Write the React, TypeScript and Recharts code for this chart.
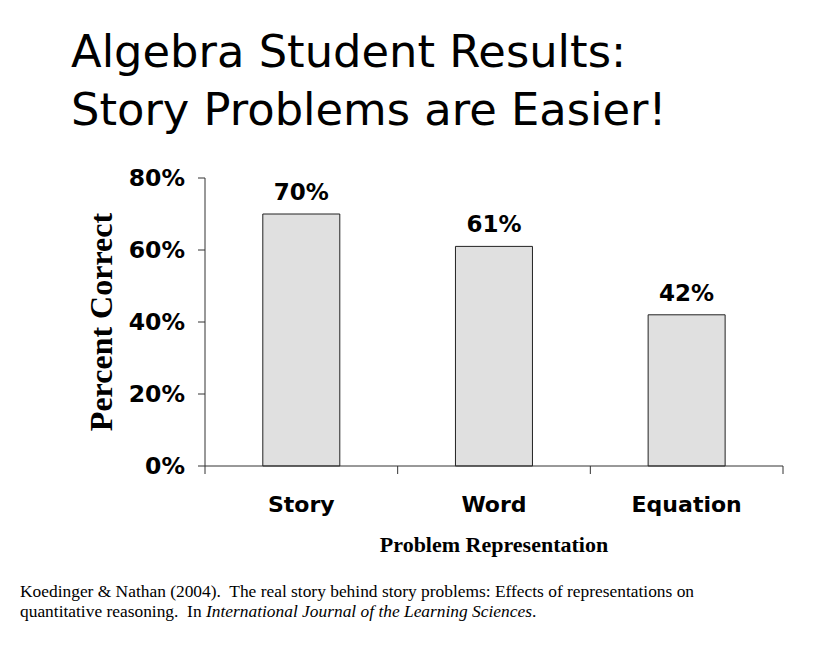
import { BarChart, Bar, XAxis, YAxis, LabelList, Label } from 'recharts';

const CATEGORIES = ['Story', 'Word', 'Equation'];
const PERCENT_CORRECT = [70, 61, 42];
const Y_TICKS = [0, 20, 40, 60, 80];

const data = CATEGORIES.map((name, i) => ({ name, value: PERCENT_CORRECT[i] }));

const SANS = '"DejaVu Sans", Verdana, sans-serif';
const SERIF = '"Liberation Serif", "Times New Roman", serif';

// category tick: boundary tick marks (between bands) plus centred label
function CategoryTick(props: any) {
  const { x, y, payload, index } = props;
  const half = payload?.offset ?? 96;
  const last = index === CATEGORIES.length - 1;
  return (
    <g>
      <line x1={x - half} y1={y} x2={x - half} y2={y + 8} stroke="#333" />
      {last && <line x1={x + half} y1={y} x2={x + half} y2={y + 8} stroke="#333" />}
      <text
        x={x}
        y={y + 46}
        textAnchor="middle"
        fontFamily={SANS}
        fontWeight="bold"
        fontSize={22}
        fill="#000"
      >
        {payload.value}
      </text>
    </g>
  );
}

export default function App() {
  return (
    <div style={{ position: 'absolute', left: 0, top: 0, width: 816, height: 670, background: '#fff' }}>
      <div
        style={{
          position: 'absolute',
          left: 71,
          top: 23,
          fontFamily: SANS,
          fontSize: 44.8,
          lineHeight: '58px',
          color: '#000',
          whiteSpace: 'nowrap',
        }}
      >
        <div>Algebra Student Results:</div>
        <div>Story Problems are Easier!</div>
      </div>

      <div style={{ position: 'absolute', left: 0, top: 0 }}>
        <BarChart
          width={816}
          height={670}
          data={data}
          margin={{ top: 178, right: 33, left: 80, bottom: 144 }}
          barCategoryGap="30%"
        >
          <XAxis
            dataKey="name"
            height={60}
            tickSize={0}
            tickMargin={0}
            tickLine={false}
            axisLine={{ stroke: '#333' }}
            tick={<CategoryTick />}
            interval={0}
          >
            <Label
              content={({ viewBox }: any) => (
                <text
                  x={viewBox.x + viewBox.width / 2}
                  y={viewBox.y + 86}
                  textAnchor="middle"
                  fontFamily={SERIF}
                  fontWeight="bold"
                  fontSize={22}
                  fill="#000"
                >
                  Problem Representation
                </text>
              )}
            />
          </XAxis>
          <YAxis
            width={125}
            domain={[0, 80]}
            ticks={Y_TICKS}
            tickFormatter={(v: number) => `${v}%`}
            tickSize={7}
            tickMargin={13}
            axisLine={{ stroke: '#333' }}
            tickLine={{ stroke: '#333' }}
            tick={{ fill: '#000', fontFamily: SANS, fontWeight: 'bold', fontSize: 23.5 }}
          >
            <Label
              content={({ viewBox }: any) => {
                const cx = viewBox.x + 32;
                const cy = viewBox.y + viewBox.height / 2;
                return (
                  <text
                    x={cx}
                    y={cy}
                    transform={`rotate(-90, ${cx}, ${cy})`}
                    textAnchor="middle"
                    fontFamily={SERIF}
                    fontWeight="bold"
                    fontSize={32}
                    fill="#000"
                  >
                    Percent Correct
                  </text>
                );
              }}
            />
          </YAxis>
          <Bar dataKey="value" fill="#e0e0e0" stroke="#222" strokeWidth={1} isAnimationActive={false}>
            <LabelList
              dataKey="value"
              position="top"
              offset={14}
              formatter={(v: any) => `${v}%`}
              fill="#000"
              fontFamily={SANS}
              fontWeight="bold"
              fontSize={23}
            />
          </Bar>
        </BarChart>
      </div>

      <div
        style={{
          position: 'absolute',
          left: 20,
          top: 581,
          fontFamily: SERIF,
          fontSize: 17.4,
          lineHeight: '20px',
          color: '#000',
          whiteSpace: 'pre',
        }}
      >
        <div>Koedinger &amp; Nathan (2004).  The real story behind story problems: Effects of representations on</div>
        <div>
          <span>quantitative reasoning.  In </span>
          <i>International Journal of the Learning Sciences</i>
          <span>.</span>
        </div>
      </div>
    </div>
  );
}
